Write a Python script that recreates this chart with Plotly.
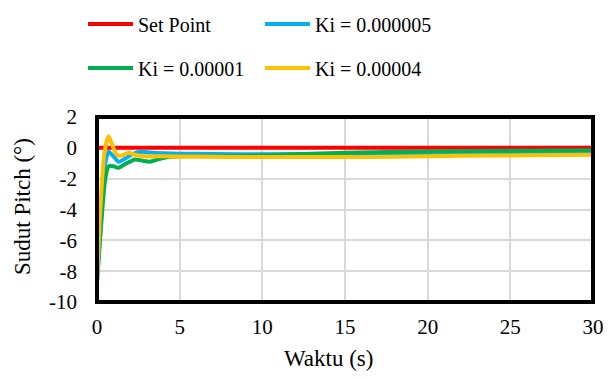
import plotly.graph_objects as go

t_sp = [0, 30]
sp = [0, 0]

t_b = [0, 0.25, 0.5, 0.7, 1.0, 1.3, 1.7, 2.0, 2.4, 2.7, 3.2, 4.0, 5.0, 7.0, 10.0, 15.0, 20.0, 25.0, 30.0]
ki_b = [-8.7, -4.5, -1.0, -0.25, -0.55, -0.9, -0.7, -0.5, -0.3, -0.25, -0.3, -0.35, -0.38, -0.4, -0.42, -0.38, -0.33, -0.3, -0.3]

t_g = [0, 0.25, 0.5, 0.7, 1.0, 1.3, 1.7, 2.3, 2.8, 3.2, 3.7, 4.3, 5.0, 8.0, 10.0, 12.0, 15.0, 20.0, 25.0, 30.0]
ki_g = [-8.7, -5.0, -2.0, -1.2, -1.2, -1.3, -1.05, -0.75, -0.85, -0.9, -0.75, -0.6, -0.55, -0.55, -0.5, -0.42, -0.32, -0.24, -0.19, -0.15]

t_y = [0, 0.2, 0.45, 0.7, 0.95, 1.2, 1.5, 1.9, 2.3, 2.8, 4.0, 6.0, 10.0, 15.0, 18.0, 22.0, 26.0, 30.0]
ki_y = [-8.7, -4.0, -0.3, 0.75, 0.1, -0.45, -0.5, -0.32, -0.45, -0.55, -0.55, -0.57, -0.6, -0.6, -0.58, -0.52, -0.48, -0.45]

x_ticks = [0, 5, 10, 15, 20, 25, 30]
y_ticks = [2, 0, -2, -4, -6, -8, -10]

FONT = "'Liberation Serif', 'Times New Roman', 'DejaVu Serif', serif"
OFF = 8  # page body margin
W, H = 611 - OFF, 379 - OFF
# plot area in window coordinates
PX0, PX1, PY0, PY1 = 97, 593, 117, 302
L, R, T, B = PX0 - OFF, W - (PX1 - OFF), PY0 - OFF, H - (PY1 - OFF)
PH = H - T - B
PW = W - L - R


def px(xw):
    return (xw - OFF - L) / PW


def py(yw):
    return (H - B - (yw - OFF)) / PH


fig = go.Figure()
fig.add_trace(go.Scatter(x=t_sp, y=sp, mode="lines", name="Set Point",
                         line=dict(color="#ff0000", width=4), legend="legend"))
fig.add_trace(go.Scatter(x=t_b, y=ki_b, mode="lines", name="Ki = 0.000005",
                         line=dict(color="#00b0f0", width=4, shape="spline", smoothing=0.6), legend="legend"))
fig.add_trace(go.Scatter(x=t_g, y=ki_g, mode="lines", name="Ki = 0.00001",
                         line=dict(color="#00b050", width=4, shape="spline", smoothing=0.6), legend="legend2"))
fig.add_trace(go.Scatter(x=t_y, y=ki_y, mode="lines", name="Ki = 0.00004",
                         line=dict(color="#ffc000", width=4, shape="spline", smoothing=0.6), legend="legend2"))

leg_common = dict(orientation="h", xref="paper", yref="paper", xanchor="left", yanchor="middle",
                  font=dict(family=FONT, size=20, color="#000000"), bgcolor="rgba(0,0,0,0)",
                  entrywidth=117, entrywidthmode="pixels", itemwidth=45, tracegroupgap=0)

fig.update_layout(
    width=W, height=H,
    margin=dict(l=L, r=R, t=T, b=B, autoexpand=False),
    paper_bgcolor="white", plot_bgcolor="white",
    font=dict(family=FONT, size=20, color="#000000"),
    legend=dict(x=px(83), y=py(24), **leg_common),
    legend2=dict(x=px(83), y=py(68), **leg_common),
    showlegend=True,
    xaxis=dict(range=[0, 30], tickvals=x_ticks, ticktext=[str(v) for v in x_ticks],
               showgrid=True, gridcolor="#d9d9d9", gridwidth=1.5, zeroline=False,
               showline=False, ticks="", ticklen=0, ticklabelstandoff=10,
               tickfont=dict(family=FONT, size=21)),
    yaxis=dict(range=[-10, 2], tickvals=y_ticks, ticktext=[str(v) for v in y_ticks],
               showgrid=True, gridcolor="#d9d9d9", gridwidth=1.5, zeroline=False,
               showline=False, ticks="", ticklen=0, ticklabelstandoff=19,
               tickfont=dict(family=FONT, size=21)),
    shapes=[dict(type="rect", xref="paper", yref="paper", x0=0, x1=1, y0=0, y1=1,
                 line=dict(color="#000000", width=4), fillcolor="rgba(0,0,0,0)", layer="above")],
    annotations=[
        dict(text="Waktu (s)", xref="paper", yref="paper", x=px(328), y=py(358),
             xanchor="center", yanchor="middle", showarrow=False, font=dict(family=FONT, size=23)),
        dict(text="Sudut Pitch (°)", xref="paper", yref="paper", x=px(22), y=py(207),
             xanchor="center", yanchor="middle", textangle=-90, showarrow=False,
             font=dict(family=FONT, size=23)),
    ],
)

fig.write_html("out.html")
